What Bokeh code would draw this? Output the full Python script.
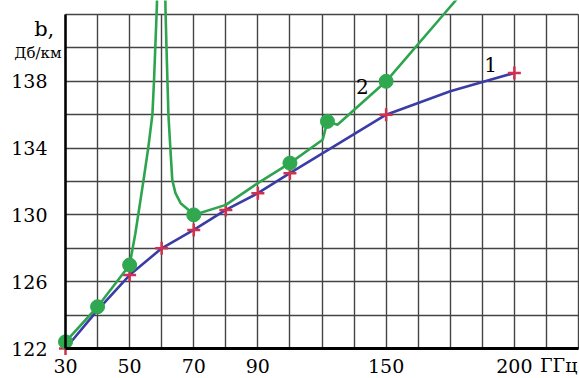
import numpy as np
from bokeh.plotting import figure
from bokeh.models import FixedTicker, Label
from bokeh.embed import file_html
from bokeh.resources import INLINE

# x-axis is non-uniform: frequency anchors -> grid position
axis_freq = [30, 100, 150, 200]
axis_pos = [0, 7, 10, 14]

x_tick_freq = [30, 50, 70, 90, 150, 200]
x_tick_labels = ["30", "50", "70", "90", "150", "200"]
y_ticks = [122, 126, 130, 134, 138]

# Curve 1
f1 = [30, 40, 50, 60, 70, 80, 90, 100, 150, 175, 200]
b1 = [122.0, 124.3, 126.4, 128.0, 129.1, 130.3, 131.3, 132.5, 136.0, 137.4, 138.5]
f1_marks = [30, 50, 60, 70, 80, 90, 100, 150, 200]
b1_marks = [122.0, 126.4, 128.0, 129.1, 130.3, 131.3, 132.5, 136.0, 138.5]

# Curve 2 (with resonance near 60 GHz)
f2 = [30, 40, 50, 51.8, 53.4, 54.5, 55.8, 57.1, 57.6, 58.0, 58.5, 59.2, 59.6,
      60.5, 61.2, 61.5, 62.1, 62.7, 63.3, 64.3, 65.9, 68.4, 70, 80, 90, 100,
      117.0, 119.5, 124.7, 150, 172.4, 178]
b2 = [122.4, 124.5, 127.0, 128.9, 130.9, 132.3, 134.0, 136.0, 138.0, 140.0, 142.5, 150.0, 152.0,
      150.0, 142.2, 140.0, 136.0, 134.0, 132.1, 131.3, 130.7, 130.3, 130.0, 130.6, 131.9, 133.1,
      134.5, 135.6, 135.4, 138.0, 142.0, 143.0]
f2_marks = [30, 40, 50, 70, 100, 119.5, 150]
b2_marks = [122.4, 124.5, 127.0, 130.0, 133.1, 135.6, 138.0]


def pos(f):
    return list(np.interp(f, axis_freq, axis_pos))


FONT = "DejaVu Serif"

W, H = 579, 378
X0, X1 = 65.0, 578.0      # plot area in canvas pixels
Y0, Y1 = 14.0, 348.0
sx = (X1 - X0) / 16.0
sy = (Y1 - Y0) / 20.0

p = figure(width=W, height=H, output_backend="svg", toolbar_location=None,
           x_range=(0 - X0 / sx, 16 + (W - X1) / sx),
           y_range=(122 - (H - Y1) / sy, 142 + Y0 / sy),
           min_border=0)
p.outline_line_color = None
p.background_fill_color = "white"
p.border_fill_color = "white"

p.xgrid.ticker = FixedTicker(ticks=list(range(0, 17)))
p.ygrid.ticker = FixedTicker(ticks=list(range(122, 143, 2)))
p.xgrid.bounds = (0, 16)
p.xgrid.cross_bounds = (122, 142)
p.ygrid.bounds = (122, 142)
p.ygrid.cross_bounds = (0, 16)
for g in (p.xgrid, p.ygrid):
    g.grid_line_color = "#444444"
    g.grid_line_width = 1.4
    g.grid_line_alpha = 1.0

xt = pos(x_tick_freq)
p.xaxis.ticker = FixedTicker(ticks=xt)
p.xaxis.major_label_overrides = {float(t): l for t, l in zip(xt, x_tick_labels)}
p.xaxis.fixed_location = 122
p.xaxis.bounds = (0, 16)
p.yaxis.ticker = FixedTicker(ticks=y_ticks)
p.yaxis.fixed_location = 0
p.yaxis.bounds = (122, 142)
for ax in (p.xaxis, p.yaxis):
    ax.axis_line_color = "black"
    ax.major_tick_line_color = None
    ax.minor_tick_line_color = None
    ax.major_label_text_font = FONT
    ax.major_label_text_font_size = "19px"
    ax.major_label_text_color = "black"
p.xaxis.axis_line_width = 3
p.yaxis.axis_line_width = 2.5
p.xaxis.major_label_standoff = 4
p.yaxis.major_label_standoff = 12

# Curve 1
p.line(pos(f1), b1, line_color="#3c3ca6", line_width=2.6)
p.scatter(pos(f1_marks), b1_marks, marker="cross", size=13, line_color="#d2304c", line_width=2.5)

# Curve 2
p.line(pos(f2), b2, line_color="#2fa44f", line_width=2.6)
p.scatter(pos(f2_marks), b2_marks, marker="circle", size=14, fill_color="#2fa84f",
          line_color="#2fa84f")

# Labels
def lab(x, y, text, size, align="center", baseline="middle"):
    p.add_layout(Label(x=x, y=y, text=text, text_font=FONT, text_font_size=size,
                       text_align=align, text_baseline=baseline, text_color="black"))

lab(13.26, 139.0, "1", "20px")
lab(9.26, 137.7, "2", "20px")
lab(-0.35, 141.15, "b,", "21px", align="right")
lab(-0.12, 139.67, "Дб/км", "15px", align="right")
lab(14.8, 121.7, "ГГц", "19px", align="left", baseline="top")

open("out.html", "w").write(file_html(p, INLINE))
